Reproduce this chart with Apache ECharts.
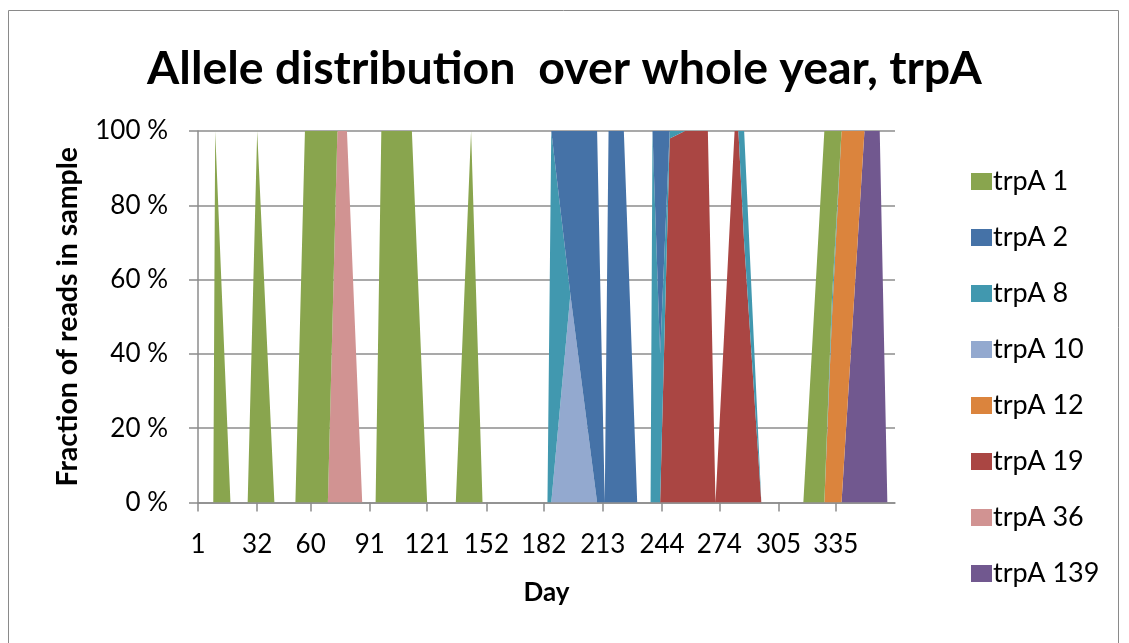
<!DOCTYPE html>
<html><head><meta charset="utf-8">
<script src="https://cdn.jsdelivr.net/npm/echarts@6/dist/echarts.min.js"></script>
<style>html,body{margin:0;padding:0;background:#fff}#c{width:1129px;height:643px}</style>
</head><body><div id="c"></div>
<script>
// Sample days (day of year) and the share of reads (%) of each allele on that day
const days    = [9,10,18,27,32, 41,52,57,69,74, 79,87,94,97,113, 121,136,144,150,184, 186,196,210,214,216, 224,231,238,239,243, 248,256,268,272,282, 284,287,296,318,329, 333,338,350,358,362];
const trpA1   = [0,100,0,0,100, 0,0,100,100,0, 0,0,0,100,100, 0,0,100,0,0, 0,0,0,0,0, 0,0,0,0,0, 0,0,0,0,0, 0,0,0,0,100, 45,0,0,0,0];
const trpA2   = [0,0,0,0,0, 0,0,0,0,0, 0,0,0,0,0, 0,0,0,0,0, 0,44,100,0,100, 100,0,0,0,60, 0,0,0,0,0, 0,0,0,0,0, 0,0,0,0,0];
const trpA8   = [0,0,0,0,0, 0,0,0,0,0, 0,0,0,0,0, 0,0,0,0,0, 100,0,0,0,0, 0,0,0,100,40, 2,0,0,0,0, 0,30,0,0,0, 5,0,0,0,0];
const trpA10  = [0,0,0,0,0, 0,0,0,0,0, 0,0,0,0,0, 0,0,0,0,0, 0,56,0,0,0, 0,0,0,0,0, 0,0,0,0,0, 0,0,0,0,0, 0,0,0,0,0];
const trpA12  = [0,0,0,0,0, 0,0,0,0,0, 0,0,0,0,0, 0,0,0,0,0, 0,0,0,0,0, 0,0,0,0,0, 0,0,0,0,0, 0,0,0,0,0, 50,100,0,0,0];
const trpA19  = [0,0,0,0,0, 0,0,0,0,0, 0,0,0,0,0, 0,0,0,0,0, 0,0,0,0,0, 0,0,0,0,0, 98,100,100,0,100, 100,70,0,0,0, 0,0,0,0,0];
const trpA36  = [0,0,0,0,0, 0,0,0,0,100, 100,0,0,0,0, 0,0,0,0,0, 0,0,0,0,0, 0,0,0,0,0, 0,0,0,0,0, 0,0,0,0,0, 0,0,0,0,0];
const trpA139 = [0,0,0,0,0, 0,0,0,0,0, 0,0,0,0,0, 0,0,0,0,0, 0,0,0,0,0, 0,0,0,0,0, 0,0,0,0,0, 0,0,0,0,0, 0,0,100,100,0];

const monthTicks = [1,32,60,91,121,152,182,213,244,274,305,335];
const legendOrder = ['trpA 1','trpA 2','trpA 8','trpA 10','trpA 12','trpA 19','trpA 36','trpA 139'];

// stacking order, bottom to top
const stackSeries = [
  {name:'trpA 139', values:trpA139, color:'#71588F'},
  {name:'trpA 36',  values:trpA36,  color:'#D19392'},
  {name:'trpA 19',  values:trpA19,  color:'#AA4643'},
  {name:'trpA 12',  values:trpA12,  color:'#DB843D'},
  {name:'trpA 10',  values:trpA10,  color:'#93A9CF'},
  {name:'trpA 8',   values:trpA8,   color:'#4198AF'},
  {name:'trpA 2',   values:trpA2,   color:'#4572A7'},
  {name:'trpA 1',   values:trpA1,   color:'#89A54E'}
];

const FONT = 'Lato';
const chart = echarts.init(document.getElementById('c'), null, {renderer:'canvas'});
chart.setOption({
  animation:false,
  backgroundColor:'#fff',
  graphic:[{type:'rect', shape:{x:8.5,y:10.5,width:1110,height:650}, style:{fill:'none', stroke:'#8a8a8a', lineWidth:1}, silent:true}],
  title:{
    text:'Allele distribution  over whole year, trpA',
    left:'center', top:40,
    textStyle:{fontFamily:FONT, fontWeight:'bold', fontSize:46.5, color:'#000'}
  },
  legend:{
    orient:'vertical', left:966, top:163,
    itemWidth:21, itemHeight:17, itemGap:29,
    icon:'rect',
    data:legendOrder,
    textStyle:{fontFamily:FONT, fontSize:27, color:'#000', lineHeight:27, padding:[0,0,0,-4]}
  },
  grid:{left:198, top:131, right:234, bottom:140.5, containLabel:false},
  xAxis:{
    type:'value', min:1, max:366,
    name:'Day', nameLocation:'middle', nameGap:77,
    nameTextStyle:{fontFamily:FONT, fontWeight:'bold', fontSize:26, color:'#000'},
    axisLine:{show:true, onZero:false, lineStyle:{color:'#8c8c8c', width:1.5}},
    axisTick:{show:true, length:9, customValues:monthTicks, lineStyle:{color:'#8c8c8c', width:1.5}},
    axisLabel:{customValues:monthTicks, margin:29, fontFamily:FONT, fontSize:26, color:'#000'},
    splitLine:{show:false}
  },
  yAxis:{
    type:'value', min:0, max:100, interval:20,
    name:'Fraction of reads in sample', nameLocation:'middle', nameGap:116,
    nameTextStyle:{fontFamily:FONT, fontWeight:'bold', fontSize:28.5, color:'#000'},
    axisLine:{show:true, lineStyle:{color:'#8c8c8c', width:1.5}},
    axisTick:{show:true, length:9, lineStyle:{color:'#8c8c8c', width:1.5}},
    axisLabel:{margin:30, fontFamily:FONT, fontSize:26, color:'#000', formatter:'{value} %'},
    splitLine:{show:true, lineStyle:{color:'#8c8c8c', width:1.5}}
  },
  // value is the first dimension so that ECharts stacks the share, not the day
  series: stackSeries.map(s => ({
    name:s.name, type:'line', stack:'total',
    symbol:'none', showSymbol:false,
    lineStyle:{width:0}, itemStyle:{color:s.color},
    areaStyle:{color:s.color, opacity:1},
    encode:{x:1, y:0},
    data: days.map((d,i) => [s.values[i], d])
  }))
});
</script></body></html>
